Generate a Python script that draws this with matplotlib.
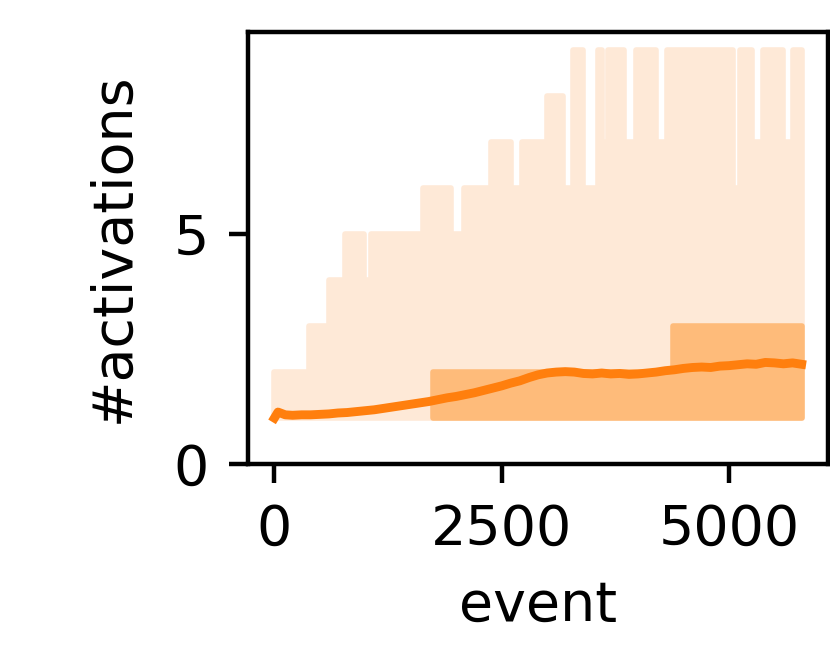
import numpy as np
import matplotlib
matplotlib.use("Agg")
import matplotlib.pyplot as plt

# max over runs (upper edge of the light band), step changes at these events
max_event = [0, 378, 597, 778, 990, 1065, 1636, 1945, 2085, 2383, 2605, 2720,
             3004, 3180, 3285, 3390, 3565, 3605, 3670, 3850, 3975, 4195, 4315,
             5040, 5125, 5255, 5370, 5590, 5710, 5800]
max_value = [2, 3, 4, 5, 4, 5, 6, 5, 6, 7, 6, 7,
             8, 6, 9, 6, 9, 7, 9, 7, 9, 7, 9,
             6, 9, 7, 9, 7, 9, 9]
min_value = 1

# inter-quartile band (darker), only above the floor from ~1740 on
iqr_event = [1741, 4382, 5800]
iqr_upper = [2, 3, 3]

# mean number of activations
mean_event = [0, 40, 120, 200, 300, 400, 500, 600, 700, 800, 900, 1000, 1100,
              1200, 1300, 1400, 1500, 1600, 1700, 1800, 1900, 2000, 2100, 2200,
              2300, 2400, 2500, 2600, 2700, 2800, 2900, 3000, 3100, 3200, 3300,
              3400, 3500, 3600, 3700, 3800, 3900, 4000, 4100, 4200, 4300, 4400,
              4500, 4600, 4700, 4800, 4900, 5000, 5100, 5200, 5300, 5400, 5500,
              5600, 5700, 5800]
mean_value = [1.00, 1.13, 1.07, 1.06, 1.07, 1.07, 1.08, 1.09, 1.11, 1.12, 1.14,
              1.16, 1.18, 1.21, 1.24, 1.27, 1.30, 1.33, 1.36, 1.40, 1.44, 1.47,
              1.51, 1.55, 1.60, 1.65, 1.70, 1.76, 1.81, 1.88, 1.94, 1.98, 2.00,
              2.01, 2.00, 1.97, 1.96, 1.98, 1.96, 1.97, 1.95, 1.96, 1.98, 2.00,
              2.03, 2.05, 2.08, 2.10, 2.11, 2.10, 2.13, 2.14, 2.16, 2.18, 2.17,
              2.21, 2.20, 2.18, 2.20, 2.17]

color = "#ff7f0e"
light = "#fee9d7"
dark = "#febb7a"

fig = plt.figure(figsize=(2.075, 1.66), dpi=400)
ax = fig.add_axes([0.2988, 0.3012, 0.6988, 0.6506])

ax.fill_between(max_event, min_value, max_value, step="post",
                facecolor=light, edgecolor=light, lw=1.0)
ax.fill_between(iqr_event, min_value, iqr_upper, step="post",
                facecolor=dark, edgecolor=dark, lw=1.0)
ax.plot(mean_event, mean_value, color=color, lw=1.6)

ax.set_ylim(0, 9.4)
ax.set_yticks([0, 5])
ax.set_xticks([0, 2500, 5000])
ax.set_xlabel("event")
ax.set_ylabel("#activations", labelpad=6)

fig.savefig("out.png", dpi=400)
